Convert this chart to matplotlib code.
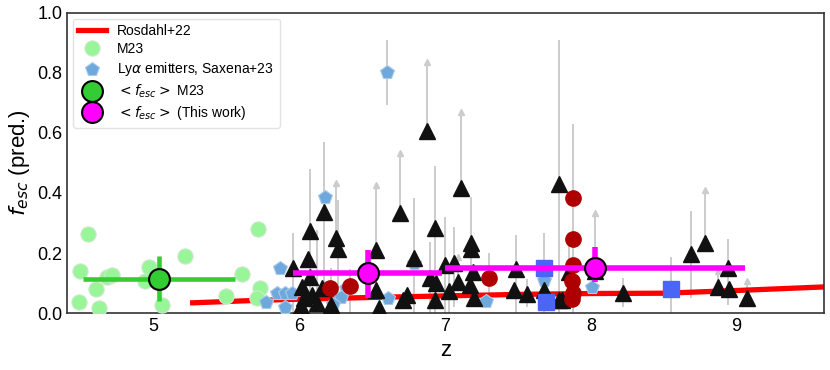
import matplotlib.pyplot as plt
import numpy as np

plt.rcParams['font.family'] = ['Liberation Sans', 'DejaVu Sans']

# Rosdahl+22 prediction
ros_z = [5.27, 5.7, 6.0, 6.5, 7.0, 7.5, 8.0, 8.5, 9.0, 9.7]
ros_f = [0.034, 0.042, 0.046, 0.052, 0.057, 0.062, 0.065, 0.066, 0.075, 0.089]

# M23 individual galaxies
m23_z = [4.55, 4.50, 4.49, 4.61, 4.63, 4.68, 4.72, 4.97, 4.94, 5.06, 5.22, 5.50, 5.61, 5.72, 5.73, 5.71]
m23_f = [0.262, 0.140, 0.038, 0.079, 0.016, 0.121, 0.127, 0.152, 0.107, 0.027, 0.190, 0.058, 0.129, 0.279, 0.082, 0.049]

# Ly-alpha emitters, Saxena+23
lae_z = [5.87, 5.85, 5.90, 5.95, 5.77, 5.90, 6.18, 6.32, 6.29, 6.23, 6.61, 6.60, 6.79, 7.28, 7.68, 8.01]
lae_f = [0.149, 0.068, 0.068, 0.068, 0.038, 0.021, 0.388, 0.082, 0.052, 0.030, 0.050, 0.804, 0.168, 0.040, 0.110, 0.088]
lae_lo = [0.149, 0.068, 0.068, 0.068, 0.038, 0.021, 0.388, 0.082, 0.052, 0.030, 0.050, 0.693, 0.168, 0.040, 0.110, 0.088]
lae_hi = [0.149, 0.068, 0.068, 0.068, 0.038, 0.021, 0.388, 0.082, 0.052, 0.030, 0.050, 0.910, 0.168, 0.040, 0.110, 0.088]

# this work: predictions (triangles), lim=1 -> lower limit
tri_z = [5.96, 6.075, 6.17, 6.25, 6.265, 6.06, 6.075, 6.53, 6.02, 6.16, 6.03, 6.01, 6.12, 6.53, 6.55, 6.22, 6.09,
         6.69, 6.79, 6.88, 6.93, 7.00, 7.06, 7.11, 7.18, 7.18, 7.19, 6.90, 6.94, 7.09, 7.17, 7.03, 6.74, 6.71, 6.93, 7.20,
         7.49, 7.47, 7.56, 7.68, 7.78, 7.78, 7.80, 7.85, 8.03, 8.22,
         8.69, 8.78, 8.94, 8.87, 8.95, 9.07]
tri_f = [0.149, 0.274, 0.338, 0.249, 0.212, 0.179, 0.121, 0.210, 0.086, 0.082, 0.049, 0.023, 0.032, 0.077, 0.016, 0.027, 0.060,
         0.334, 0.182, 0.607, 0.282, 0.160, 0.166, 0.416, 0.234, 0.215, 0.138, 0.116, 0.100, 0.104, 0.093, 0.074, 0.060, 0.043, 0.043, 0.049,
         0.146, 0.077, 0.062, 0.077, 0.429, 0.043, 0.043, 0.138, 0.141, 0.068,
         0.197, 0.232, 0.149, 0.086, 0.080, 0.049]
tri_lo = [0.0, 0.0, 0.08, 0.249, 0.05, 0.179, 0.121, 0.210, 0.086, 0.082, 0.049, 0.023, 0.0, 0.077, 0.016, 0.0, 0.060,
          0.334, 0.0, 0.607, 0.0, 0.0, 0.02, 0.416, 0.10, 0.215, 0.138, 0.0, 0.100, 0.104, 0.093, 0.0, 0.060, 0.043, 0.043, 0.049,
          0.0, 0.077, 0.02, 0.077, 0.0, 0.043, 0.043, 0.138, 0.141, 0.02,
          0.049, 0.232, 0.027, 0.086, 0.080, 0.049]
tri_hi = [0.268, 0.48, 0.57, 0.433, 0.377, 0.179, 0.121, 0.427, 0.086, 0.082, 0.049, 0.023, 0.277, 0.077, 0.016, 0.15, 0.060,
          0.534, 0.382, 0.838, 0.49, 0.321, 0.288, 0.671, 0.388, 0.215, 0.138, 0.238, 0.100, 0.187, 0.093, 0.15, 0.060, 0.043, 0.043, 0.049,
          0.26, 0.077, 0.115, 0.077, 0.91, 0.043, 0.043, 0.249, 0.332, 0.117,
          0.34, 0.41, 0.246, 0.14, 0.080, 0.107]
tri_lim = [0, 0, 0, 1, 0, 0, 0, 1, 0, 0, 0, 0, 0, 0, 0, 0, 0,
           1, 0, 1, 0, 0, 0, 1, 0, 0, 0, 0, 0, 1, 0, 0, 0, 0, 0, 0,
           0, 0, 0, 0, 0, 0, 0, 1, 1, 0,
           0, 1, 0, 1, 0, 1]

# red circles
red_z = [6.21, 6.35, 7.30, 7.88, 7.88, 7.88, 7.87, 7.88, 7.87]
red_f = [0.084, 0.090, 0.116, 0.382, 0.246, 0.160, 0.108, 0.068, 0.047]
red_lo = [0.084, 0.0, 0.04, 0.0, 0.246, 0.160, 0.108, 0.068, 0.047]
red_hi = [0.084, 0.147, 0.20, 0.63, 0.246, 0.160, 0.108, 0.068, 0.047]

# blue squares
sq_z = [7.68, 7.69, 8.55]
sq_f = [0.149, 0.038, 0.079]
sq_lo = [0.0, 0.038, 0.0]
sq_hi = [0.268, 0.038, 0.186]

# mean values
m23_mean_z, m23_mean_f = 5.04, 0.114
m23_mean_xerr, m23_mean_yerr = [[0.52], [0.52]], [[0.073], [0.076]]
tw_mean_z = [6.47, 8.03]
tw_mean_f = [0.133, 0.151]
tw_mean_xerr = [[0.51, 1.03], [0.51, 1.03]]
tw_mean_yerr = [[0.082, 0.047], [0.077, 0.068]]

gray = '#cccccc'
fig, ax = plt.subplots(figsize=(8.3, 3.7), dpi=100)
fig.subplots_adjust(left=0.081, right=0.993, bottom=0.154, top=0.965)

tri_z, tri_f, tri_lo, tri_hi, tri_lim = map(np.array, (tri_z, tri_f, tri_lo, tri_hi, tri_lim))
lim = tri_lim == 1

# grey error bars and lower-limit arrows
ax.vlines(tri_z, tri_lo, tri_hi, color=gray, lw=1.4, zorder=1)
ax.vlines(red_z, red_lo, red_hi, color=gray, lw=1.4, zorder=1)
ax.vlines(sq_z, sq_lo, sq_hi, color=gray, lw=1.4, zorder=1)
ax.vlines(lae_z, lae_lo, lae_hi, color=gray, lw=1.4, zorder=1)
ax.plot(tri_z[lim], tri_hi[lim], ls='none', marker='^', ms=5, color=gray, zorder=1)

ax.plot(ros_z, ros_f, color='red', lw=3.8, zorder=2, label='Rosdahl+22')
ax.plot(m23_z, m23_f, ls='none', marker='o', ms=11, color='#98F598', mec='#d0e8d0', mew=0.8,
        zorder=3, label='M23')
ax.plot(lae_z, lae_f, ls='none', marker='p', ms=10, color='#6FA8DC', mec='#a9cbe8', mew=0.8,
        zorder=3, label=r'Ly$\alpha$ emitters, Saxena+23')
ax.plot(tri_z, tri_f, ls='none', marker='^', ms=11, color='#111111', mec='#111111', zorder=3)
ax.plot(red_z, red_f, ls='none', marker='o', ms=11, color='#AE0000', zorder=3)
ax.plot(sq_z, sq_f, ls='none', marker='s', ms=11, color='#4B66F5', zorder=3)

ax.errorbar(m23_mean_z, m23_mean_f, xerr=m23_mean_xerr, yerr=m23_mean_yerr, fmt='none',
            ecolor='#33CC33', elinewidth=3.3, zorder=4)
ax.plot(m23_mean_z, m23_mean_f, ls='none', marker='o', ms=15, color='#33CC33', mec='k', mew=1.5,
        zorder=5, label=r'$<f_{esc}>$ M23')
ax.errorbar(tw_mean_z, tw_mean_f, xerr=tw_mean_xerr, yerr=tw_mean_yerr, fmt='none',
            ecolor='magenta', elinewidth=4, zorder=4)
ax.plot(tw_mean_z, tw_mean_f, ls='none', marker='o', ms=15, color='magenta', mec='k', mew=1.5,
        zorder=5, label=r'$<f_{esc}>$ (This work)')

ax.set_xlim(4.41, 9.6)
ax.set_ylim(0, 1.0)
ax.set_xticks([5, 6, 7, 8, 9])
ax.set_yticks([0.0, 0.2, 0.4, 0.6, 0.8, 1.0])
ax.tick_params(axis='both', labelsize=13, length=0)
ax.set_xlabel('z', fontsize=16)
ax.set_ylabel(r'$f_{esc}$ (pred.)', fontsize=16)
for s in ax.spines.values():
    s.set_color('#333333')
    s.set_linewidth(1.2)

leg = ax.legend(loc='upper left', fontsize=10, frameon=True, borderaxespad=0.4, labelspacing=0.3)
leg.get_frame().set_edgecolor('#dddddd')

fig.savefig('out.png', dpi=100)
